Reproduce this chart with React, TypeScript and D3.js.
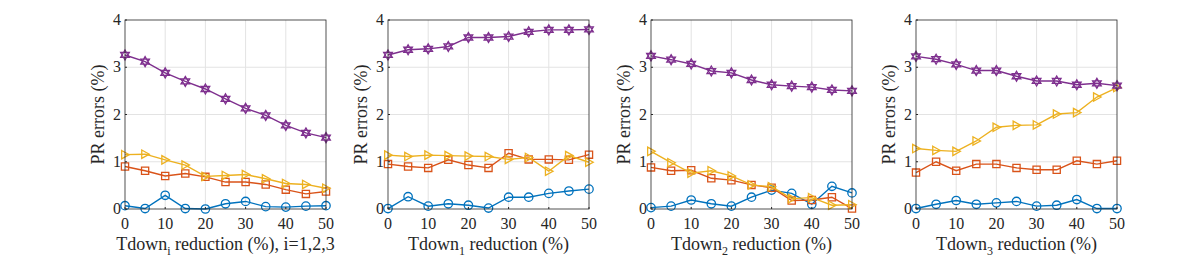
import { useEffect, useRef } from 'react';
import * as d3 from 'd3';

const reductions = [0, 5, 10, 15, 20, 25, 30, 35, 40, 45, 50];
const xTicks = [0, 10, 20, 30, 40, 50];
const yTicks = [0, 1, 2, 3, 4];

const subscripts = ['i', '1', '2', '3'];
const suffixes = [', i=1,2,3', '', '', ''];

// per panel: blue (circle), red (square), yellow (triangle), purple (hexagram)
const blueSeries = [
  [0.07, 0.01, 0.29, 0.01, 0.0, 0.11, 0.16, 0.05, 0.04, 0.06, 0.07],
  [0.01, 0.26, 0.06, 0.11, 0.08, 0.02, 0.25, 0.25, 0.33, 0.38, 0.42],
  [0.03, 0.06, 0.19, 0.11, 0.06, 0.25, 0.4, 0.33, 0.1, 0.48, 0.34],
  [0.01, 0.1, 0.18, 0.1, 0.13, 0.16, 0.06, 0.08, 0.2, 0.01, 0.01],
];
const redSeries = [
  [0.9, 0.81, 0.7, 0.75, 0.68, 0.57, 0.57, 0.52, 0.41, 0.32, 0.37],
  [0.95, 0.9, 0.87, 1.04, 0.93, 0.87, 1.18, 1.05, 1.05, 1.04, 1.15],
  [0.88, 0.81, 0.82, 0.65, 0.61, 0.51, 0.45, 0.18, 0.19, 0.25, 0.01],
  [0.77, 1.0, 0.81, 0.95, 0.95, 0.87, 0.83, 0.83, 1.02, 0.95, 1.02],
];
const yellowSeries = [
  [1.15, 1.16, 1.04, 0.93, 0.69, 0.71, 0.73, 0.64, 0.54, 0.52, 0.44],
  [1.14, 1.11, 1.14, 1.13, 1.12, 1.11, 1.05, 1.09, 0.8, 1.13, 0.99],
  [1.22, 0.98, 0.76, 0.81, 0.7, 0.51, 0.47, 0.22, 0.24, 0.08, 0.09],
  [1.28, 1.24, 1.22, 1.44, 1.73, 1.77, 1.78, 2.01, 2.04, 2.37, 2.57],
];
const purpleSeries = [
  [3.26, 3.12, 2.88, 2.7, 2.54, 2.33, 2.13, 1.98, 1.77, 1.61, 1.51],
  [3.26, 3.37, 3.39, 3.44, 3.63, 3.63, 3.65, 3.75, 3.79, 3.79, 3.8],
  [3.24, 3.16, 3.07, 2.92, 2.88, 2.73, 2.63, 2.6, 2.58, 2.52, 2.5],
  [3.23, 3.17, 3.06, 2.93, 2.93, 2.81, 2.71, 2.71, 2.63, 2.66, 2.61],
];

const colors = ['#0072BD', '#D95319', '#EDB120', '#7E2F8E'];
const shapes = ['circle', 'square', 'triangle', 'hexagram'];

const panelLefts = [125, 388, 651, 916];
const panelWidth = 201;
const top = 20;
const bottom = 209;
const font = "'Liberation Serif', Tinos, 'Times New Roman', Times, 'Nimbus Roman', FreeSerif, 'DejaVu Serif', serif";
const ink = '#262626';

function markerPath(shape: string, r: number): string {
  if (shape === 'circle') {
    return d3.symbol(d3.symbolCircle, Math.PI * r * r)() as string;
  }
  if (shape === 'square') {
    return `M${-r},${-r}H${r}V${r}H${-r}Z`;
  }
  if (shape === 'triangle') {
    return `M${-r * 0.8},${-r}L${r},0L${-r * 0.8},${r}Z`;
  }
  // hexagram: two triangles
  const pts = (offset: number) =>
    d3.range(3).map((i) => {
      const a = offset + (i * 2 * Math.PI) / 3;
      return [r * Math.sin(a), -r * Math.cos(a)];
    });
  const t1 = pts(0);
  const t2 = pts(Math.PI);
  return (
    `M${t1.map((p) => p.join(',')).join('L')}Z` +
    `M${t2.map((p) => p.join(',')).join('L')}Z`
  );
}

export default function App() {
  const svgRef = useRef<SVGSVGElement | null>(null);

  useEffect(() => {
    if (!svgRef.current) return;
    const svg = d3.select(svgRef.current);
    svg.selectAll('*').remove();

    const y = d3.scaleLinear().domain([0, 4]).range([bottom, top]);

    panelLefts.forEach((left, p) => {
      const x = d3.scaleLinear().domain([0, 50]).range([left, left + panelWidth]);
      const g = svg.append('g');

      // grid
      g.selectAll('line.gx')
        .data(xTicks.slice(1, -1))
        .join('line')
        .attr('x1', (d) => x(d))
        .attr('x2', (d) => x(d))
        .attr('y1', top)
        .attr('y2', bottom)
        .attr('stroke', '#e3e3e3')
        .attr('stroke-width', 1);
      g.selectAll('line.gy')
        .data(yTicks.slice(1, -1))
        .join('line')
        .attr('x1', left)
        .attr('x2', left + panelWidth)
        .attr('y1', (d) => y(d))
        .attr('y2', (d) => y(d))
        .attr('stroke', '#e3e3e3')
        .attr('stroke-width', 1);

      // series
      const all = [blueSeries[p], redSeries[p], yellowSeries[p], purpleSeries[p]];
      all.forEach((vals, s) => {
        const pts = vals.map((v, i) => [x(reductions[i]), y(v)] as [number, number]);
        g.append('path')
          .attr('d', d3.line()(pts))
          .attr('fill', 'none')
          .attr('stroke', colors[s])
          .attr('stroke-width', 1.4);
        const r = shapes[s] === 'hexagram' ? 5 : shapes[s] === 'square' ? 3.6 : 4.2;
        g.selectAll(`path.m${s}`)
          .data(pts)
          .join('path')
          .attr('class', `m${s}`)
          .attr('transform', (d) => `translate(${d[0]},${d[1]})`)
          .attr('d', markerPath(shapes[s], r))
          .attr('fill', 'none')
          .attr('stroke', colors[s])
          .attr('stroke-width', 1.3);
      });

      // box
      g.append('rect')
        .attr('x', left)
        .attr('y', top)
        .attr('width', panelWidth)
        .attr('height', bottom - top)
        .attr('fill', 'none')
        .attr('stroke', ink)
        .attr('stroke-width', 0.8);

      // ticks
      g.selectAll('line.tx')
        .data(xTicks)
        .join('line')
        .attr('x1', (d) => x(d))
        .attr('x2', (d) => x(d))
        .attr('y1', bottom)
        .attr('y2', bottom - 2)
        .attr('stroke', ink);
      g.selectAll('line.ty')
        .data(yTicks)
        .join('line')
        .attr('x1', left)
        .attr('x2', left + 2)
        .attr('y1', (d) => y(d))
        .attr('y2', (d) => y(d))
        .attr('stroke', ink);

      g.selectAll('text.tx')
        .data(xTicks)
        .join('text')
        .attr('x', (d) => x(d))
        .attr('y', bottom + 20)
        .attr('text-anchor', 'middle')
        .style('font-family', font)
        .attr('font-size', 16)
        .attr('fill', ink)
        .text((d) => d);
      g.selectAll('text.ty')
        .data(yTicks)
        .join('text')
        .attr('x', left - 4)
        .attr('y', (d) => y(d) + 5)
        .attr('text-anchor', 'end')
        .style('font-family', font)
        .attr('font-size', 16)
        .attr('fill', ink)
        .text((d) => d);

      // y label
      g.append('text')
        .attr('transform', `translate(${left - 21},${(top + bottom) / 2}) rotate(-90)`)
        .attr('text-anchor', 'middle')
        .style('font-family', font)
        .attr('font-size', 18)
        .attr('fill', ink)
        .text('PR errors (%)');

      // x label
      const xl = g
        .append('text')
        .attr('x', left + panelWidth / 2)
        .attr('y', bottom + 41)
        .attr('text-anchor', 'middle')
        .style('font-family', font)
        .attr('font-size', 18)
        .attr('fill', ink);
      xl.append('tspan').text('Tdown');
      xl.append('tspan').attr('dy', 5).attr('font-size', 12).text(subscripts[p]);
      xl.append('tspan').attr('dy', -5).text(' reduction (%)' + suffixes[p]);
    });
  }, []);

  return (
    <svg
      ref={svgRef}
      width={1196}
      height={265}
      style={{ position: 'absolute', left: 0, top: 0, background: '#fff', fontFamily: font }}
    />
  );
}
